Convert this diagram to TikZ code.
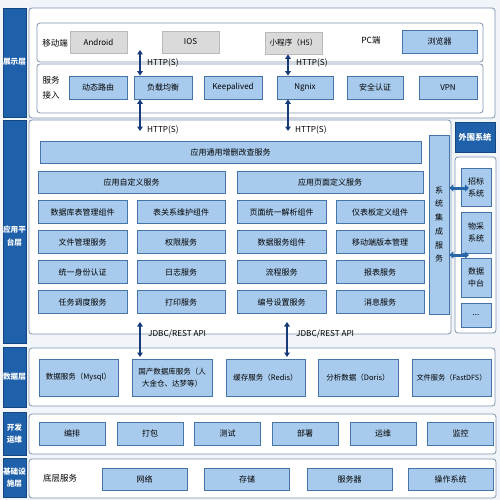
\documentclass[tikz,border=0pt]{standalone}
\usepackage{fontspec}
\setmainfont{Noto Sans CJK SC}
\usetikzlibrary{arrows.meta}
\definecolor{barblue}{RGB}{30,96,170}
\definecolor{barline}{RGB}{20,70,130}
\definecolor{panelline}{RGB}{125,148,175}
\definecolor{boxfill}{RGB}{168,203,237}
\definecolor{boxline}{RGB}{68,116,168}
\definecolor{greyfill}{RGB}{218,218,218}
\definecolor{greyline}{RGB}{185,185,185}
\definecolor{linkblue}{RGB}{22,58,122}
\definecolor{sideblue}{RGB}{40,102,168}
\definecolor{backdrop}{RGB}{241,244,248}

\begin{document}
\begin{tikzpicture}[x=1pt,y=-1pt,
  panel/.style={draw=panelline,fill=white,rounded corners=3pt,line width=0.8pt},
  bar/.style={fill=barblue,draw=barline,line width=0.5pt},
  barlabel/.style={text=white,font=\fontsize{7.6}{12.5}\selectfont\bfseries,align=center},
  svc/.style={draw=boxline,fill=boxfill,line width=0.7pt,inner sep=0pt,minimum height=23pt,font=\fontsize{8}{9}\selectfont,align=center},
  grey/.style={svc,draw=greyline,fill=greyfill},
  tag/.style={font=\fontsize{8.5}{15}\selectfont,align=center},
  link/.style={draw=linkblue,line width=1.6pt,{Triangle[length=4.5pt,width=5.5pt]}-{Triangle[length=4.5pt,width=5.5pt]}},
  api/.style={font=\fontsize{8.2}{9}\selectfont,anchor=west,inner sep=0pt},
  side/.style={draw=sideblue,line width=3pt,{Triangle[length=4pt,width=7pt]}-{Triangle[length=4pt,width=7pt]}}
]
\useasboundingbox[fill=backdrop] (0,0) rectangle (500,500);

% display layer
\draw[bar] (3,8) rectangle (26,117);
\node[barlabel] (lshow) at (14.5,62) {展示层};
\draw[panel] (29,8) rectangle (495,118);
\draw[panel] (37,23) rectangle (483,62);
\draw[panel] (37,64) rectangle (483,113);

\node[tag] (mobile) at (55,43) {移动端};
\node[grey,minimum width=57pt,minimum height=22pt] (android) at (98.5,42) {Android};
\node[grey,minimum width=57pt,minimum height=22pt] (ios) at (190.5,42) {IOS};
\node[grey,minimum width=57pt,minimum height=22pt,font=\fontsize{7.6}{9}\selectfont] (h5) at (293.5,43) {小程序（H5）};
\node[tag] (pc) at (371,40) {PC端};
\node[svc,minimum width=75pt] (browser) at (439.5,41.5) {浏览器};

\node[tag] (access) at (51,88) {服务\\接入};
\node[svc,minimum width=58pt] (route) at (98,87.5) {动态路由};
\node[svc,minimum width=58pt] (lb) at (163,87.5) {负载均衡};
\node[svc,minimum width=58pt] (keep) at (233,87.5) {Keepalived};
\node[svc,minimum width=56pt] (ngnix) at (305,87.5) {Ngnix};
\node[svc,minimum width=56pt] (auth) at (375,87.5) {安全认证};
\node[svc,minimum width=58pt] (vpn) at (448,87.5) {VPN};

\coordinate (h1) at (140,50);
\draw[link] (h1) -- (h1 |- lb.north);
\draw[link] ([xshift=-5.5pt]h5.south) -- ([xshift=-5.5pt]h5.south |- ngnix.north);
\node[api] (t1) at (147,63) {HTTP(S)};
\node[api] (t2) at (296,63) {HTTP(S)};

% application platform layer
\draw[bar] (3,120) rectangle (26,343);
\node[barlabel] (lapp) at (14.5,236) {应用平\\台层};
\draw[panel] (29,120) rectangle (451,334);

\coordinate (h3) at (140,131);
\coordinate (h4) at (288,131);
\draw[link] ([xshift=-23pt]lb.south) -- (h3);
\draw[link] (h4 |- ngnix.south) -- (h4);
\node[api] (t3) at (147,130) {HTTP(S)};
\node[api] (t4) at (295,130) {HTTP(S)};

\node[svc,minimum width=381pt,minimum height=22pt] (crud) at (230.5,152) {应用通用增删改查服务};
\node[svc,minimum width=187pt,minimum height=22pt] (custom) at (131.5,182) {应用自定义服务};
\node[svc,minimum width=186pt,minimum height=22pt] (page) at (330,182) {应用页面定义服务};

\node[svc,minimum width=89pt] (dbtab) at (82.5,212) {数据库表管理组件};
\node[svc,minimum width=88pt] (rel) at (181,212) {表关系维护组件};
\node[svc,minimum width=89pt] (parse) at (281.5,212) {页面统一解析组件};
\node[svc,minimum width=88pt] (dash) at (380,212) {仪表板定义组件};

\node[svc,minimum width=89pt] (file) at (82.5,242) {文件管理服务};
\node[svc,minimum width=88pt] (perm) at (181,242) {权限服务};
\node[svc,minimum width=89pt] (dsvc) at (281.5,242) {数据服务组件};
\node[svc,minimum width=88pt] (mver) at (380,242) {移动端版本管理};

\node[svc,minimum width=89pt] (ident) at (82.5,272) {统一身份认证};
\node[svc,minimum width=88pt] (logs) at (181,272) {日志服务};
\node[svc,minimum width=89pt] (flow) at (281.5,272) {流程服务};
\node[svc,minimum width=88pt] (report) at (380,272) {报表服务};

\node[svc,minimum width=89pt] (task) at (82.5,302) {任务调度服务};
\node[svc,minimum width=88pt] (print) at (181,302) {打印服务};
\node[svc,minimum width=89pt] (serial) at (281.5,302) {编号设置服务};
\node[svc,minimum width=88pt] (msg) at (380,302) {消息服务};

\node[svc,minimum width=20pt,minimum height=179pt,font=\fontsize{8}{13.7}\selectfont] (integ) at (439,224.5) {系\\统\\集\\成\\服\\务};

% peripheral systems
\node[fill=barblue,draw=barline,minimum width=40pt,minimum height=30pt,inner sep=0pt,text=white,font=\fontsize{8.2}{9}\selectfont\bfseries] (outer) at (475,137) {外围系统};
\draw[panel] (455,157) rectangle (496,333);
\node[svc,minimum width=30pt,minimum height=38pt,font=\fontsize{8}{12}\selectfont] (bid) at (476,187) {招标\\系统};
\node[svc,minimum width=30pt,minimum height=41pt,font=\fontsize{8}{12}\selectfont] (buy) at (476,232.5) {物采\\系统};
\node[svc,minimum width=30pt,minimum height=39pt,font=\fontsize{8}{12}\selectfont] (dmid) at (476,277.5) {数据\\中台};
\node[svc,minimum width=30pt,minimum height=24pt] (more) at (476,315) {...};
\coordinate (s1) at (469,188);
\coordinate (s2) at (469,255);
\draw[side] (integ.east |- s1) -- (s1);
\draw[side] (integ.east |- s2) -- (s2);

% data layer
\coordinate (j1a) at (140,322);
\coordinate (j1b) at (140,357);
\coordinate (j2a) at (287,322);
\coordinate (j2b) at (287,357);
\draw[bar] (3,347) rectangle (26,407);
\node[barlabel] (ldata) at (14.5,377) {数据层};
\draw[panel] (29,348) rectangle (495,406);
\draw[link] (j1a) -- (j1b);
\draw[link] (j2a) -- (j2b);
\node[api] (t5) at (148,334) {JDBC/REST API};
\node[api] (t6) at (296,334) {JDBC/REST API};

\node[svc,minimum width=79pt,minimum height=37pt,font=\fontsize{7.5}{11.5}\selectfont] (mysql) at (78.5,377.5) {数据服务（Mysql）};
\node[svc,minimum width=80pt,minimum height=37pt,font=\fontsize{7.5}{11.5}\selectfont] (guochan) at (172,377.5) {国产数据库服务（人\\大金仓、达梦等）};
\node[svc,minimum width=79pt,minimum height=37pt,font=\fontsize{7.5}{11.5}\selectfont] (redis) at (265.5,377.5) {缓存服务（Redis）};
\node[svc,minimum width=80pt,minimum height=37pt,font=\fontsize{7.5}{11.5}\selectfont] (doris) at (358,377.5) {分析数据（Doris）};
\node[svc,minimum width=79pt,minimum height=37pt,font=\fontsize{7.2}{11.5}\selectfont] (fdfs) at (451.5,377.5) {文件服务（FastDFS）};

% devops
\draw[bar] (3,412) rectangle (26,455);
\node[barlabel] (ldev) at (14.5,433.5) {开发\\运维};
\draw[panel] (29,414) rectangle (496,454);
\node[svc,minimum width=66pt] (arrange) at (72,433.5) {编排};
\node[svc,minimum width=66pt] (pack) at (150,433.5) {打包};
\node[svc,minimum width=66pt] (test) at (227.5,433.5) {测试};
\node[svc,minimum width=66pt] (deploy) at (305,433.5) {部署};
\node[svc,minimum width=66pt] (ops) at (383,433.5) {运维};
\node[svc,minimum width=66pt] (monitor) at (460.5,433.5) {监控};

% infrastructure
\draw[bar] (3,458) rectangle (26,497);
\node[barlabel] (linfra) at (14.5,477.5) {基础设\\施层};
\draw[panel] (29,459) rectangle (496,498);
\node[tag] (base) at (60,478) {底层服务};
\node[svc,minimum width=85pt,minimum height=22pt] (net) at (144.5,479) {网络};
\node[svc,minimum width=85pt,minimum height=22pt] (store) at (247,479) {存储};
\node[svc,minimum width=85pt,minimum height=22pt] (server) at (349.5,479) {服务器};
\node[svc,minimum width=85pt,minimum height=22pt] (os) at (450.5,479) {操作系统};
\end{tikzpicture}
\end{document}
